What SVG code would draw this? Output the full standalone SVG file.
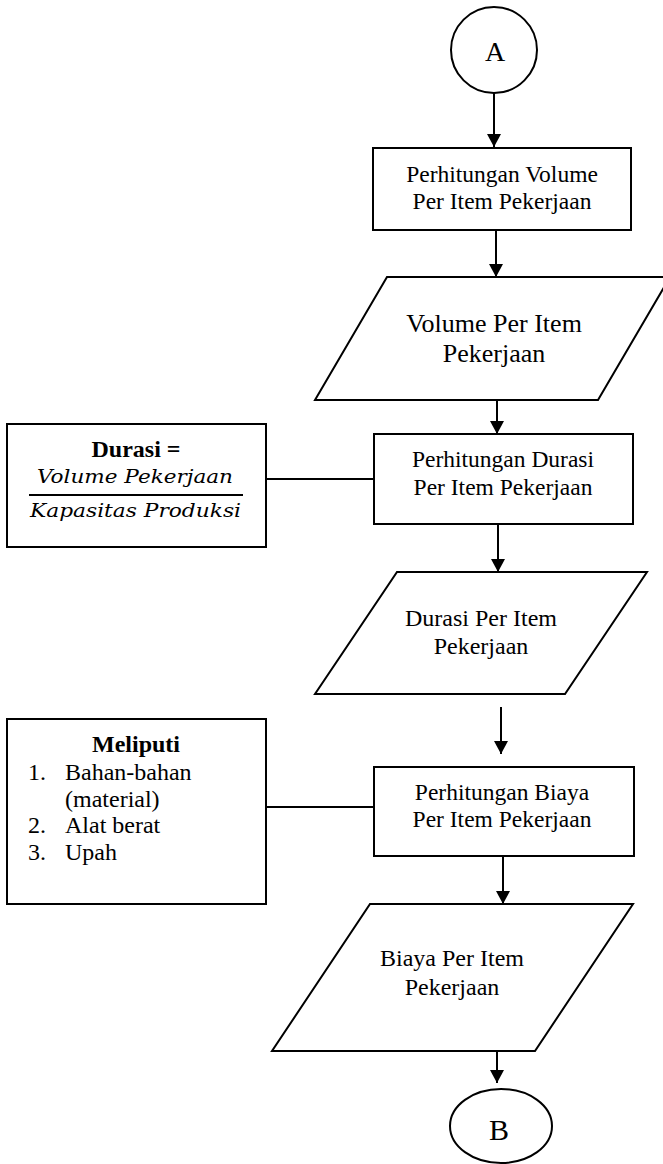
<svg xmlns="http://www.w3.org/2000/svg" width="663" height="1164" viewBox="0 0 663 1164">
<style>
.s{fill:#fff;stroke:#000;stroke-width:2}
.t{font-family:"Liberation Serif","Times New Roman",serif;fill:#000;text-anchor:middle}
.l{font-family:"Liberation Serif","Times New Roman",serif;fill:#000;font-size:24px}
.m{font-family:"DejaVu Serif",serif;font-style:italic;fill:#000;font-size:19px}
.c{stroke:#000;stroke-width:2;fill:none}
</style>
<defs>
<marker id="ah" markerUnits="userSpaceOnUse" markerWidth="14" markerHeight="14" refX="13" refY="7" orient="auto">
<path d="M0,0 L13,7 L0,14 Z" fill="#000"/>
</marker>
</defs>
<rect width="663" height="1164" fill="#fff"/>
<g id="connectors">
<line class="c" x1="494" y1="93" x2="494" y2="147" marker-end="url(#ah)"/>
<line class="c" x1="496" y1="230" x2="496" y2="277" marker-end="url(#ah)"/>
<line class="c" x1="497" y1="400" x2="497" y2="434" marker-end="url(#ah)"/>
<line class="c" x1="498" y1="524" x2="498" y2="572" marker-end="url(#ah)"/>
<line class="c" x1="501" y1="707" x2="501" y2="754" marker-end="url(#ah)"/>
<line class="c" x1="503" y1="856" x2="503" y2="904" marker-end="url(#ah)"/>
<line class="c" x1="497" y1="1051" x2="497" y2="1083" marker-end="url(#ah)"/>
<line class="c" x1="266" y1="479" x2="374" y2="479"/>
<line class="c" x1="266" y1="807" x2="374" y2="807"/>
</g>
<g id="nodeA">
<circle class="s" cx="494" cy="50" r="43"/>
<text class="t" x="495" y="61" font-size="28">A</text>
</g>
<g id="box1">
<rect class="s" x="373" y="148" width="258" height="82"/>
<text class="t" x="502" y="182" font-size="23.5">Perhitungan Volume</text>
<text class="t" x="502" y="209" font-size="23.5">Per Item Pekerjaan</text>
</g>
<g id="para1">
<polygon class="s" points="387,277 670,277 598,400 315,400"/>
<text class="t" x="494" y="332" font-size="26">Volume Per Item</text>
<text class="t" x="494" y="362" font-size="26">Pekerjaan</text>
</g>
<g id="durasiNote">
<rect class="s" x="7" y="424" width="259" height="123"/>
<text class="t" x="136" y="457" font-size="24"><tspan font-weight="bold">Durasi =</tspan></text>
<text class="m" x="37" y="483" textLength="196" lengthAdjust="spacingAndGlyphs">Volume Pekerjaan</text>
<line x1="29" y1="495" x2="243" y2="495" stroke="#000" stroke-width="2"/>
<text class="m" x="30" y="517" textLength="211" lengthAdjust="spacingAndGlyphs">Kapasitas Produksi</text>
</g>
<g id="box2">
<rect class="s" x="374" y="434" width="259" height="90"/>
<text class="t" x="503" y="467" font-size="23.5">Perhitungan Durasi</text>
<text class="t" x="503" y="495" font-size="23.5">Per Item Pekerjaan</text>
</g>
<g id="para2">
<polygon class="s" points="397,572 647,572 565,694 315,694"/>
<text class="t" x="481" y="626" font-size="24">Durasi Per Item</text>
<text class="t" x="481" y="654" font-size="24">Pekerjaan</text>
</g>
<g id="meliputiNote">
<rect class="s" x="7" y="719" width="259" height="185"/>
<text class="t" x="136" y="752" font-size="24" font-weight="bold">Meliputi</text>
<text class="l" x="28" y="780">1.</text><text class="l" x="65" y="780">Bahan-bahan</text>
<text class="l" x="65" y="807">(material)</text>
<text class="l" x="28" y="833">2.</text><text class="l" x="65" y="833">Alat berat</text>
<text class="l" x="28" y="860">3.</text><text class="l" x="65" y="860">Upah</text>
</g>
<g id="box3">
<rect class="s" x="374" y="767" width="260" height="89"/>
<text class="t" x="502" y="800" font-size="23.5">Perhitungan Biaya</text>
<text class="t" x="502" y="827" font-size="23.5">Per Item Pekerjaan</text>
</g>
<g id="para3">
<polygon class="s" points="370,904 633,904 535,1051 272,1051"/>
<text class="t" x="452" y="966" font-size="24">Biaya Per Item</text>
<text class="t" x="452" y="995" font-size="24">Pekerjaan</text>
</g>
<g id="nodeB">
<ellipse class="s" cx="501" cy="1126" rx="51" ry="37"/>
<text class="t" x="499" y="1140" font-size="30">B</text>
</g>
</svg>
